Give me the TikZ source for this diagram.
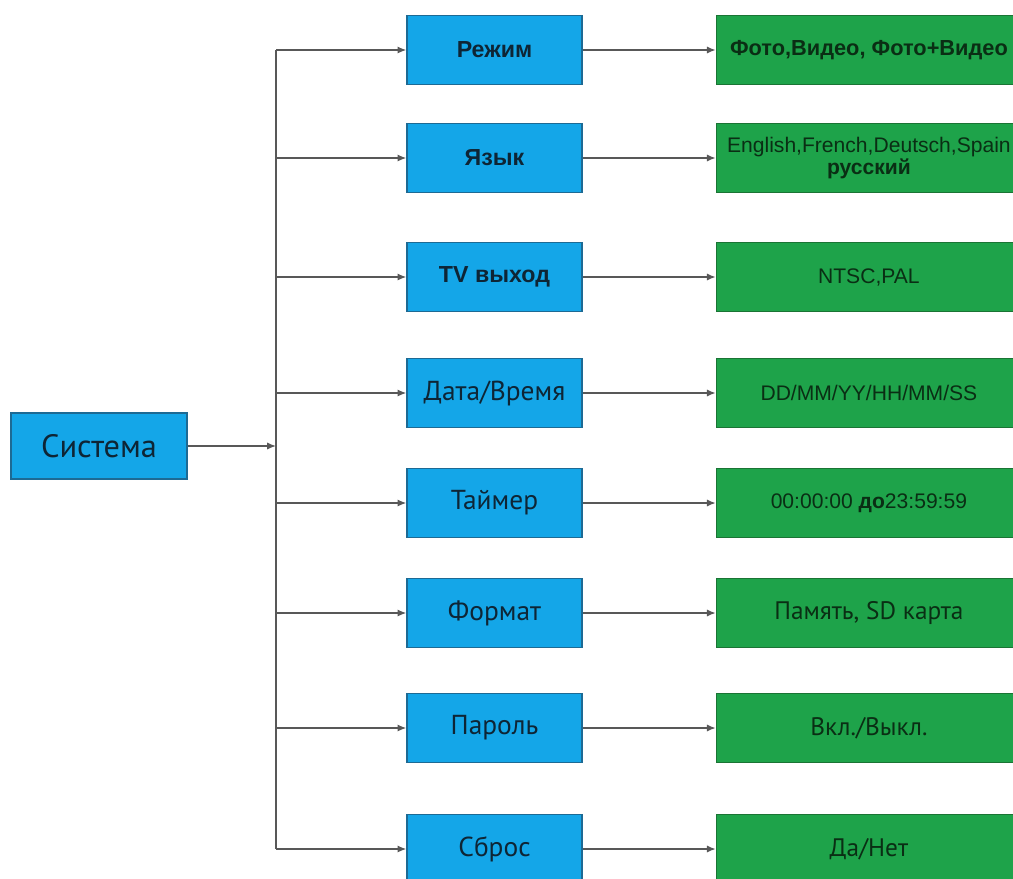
\documentclass[tikz,border=0pt]{standalone}
\usepackage{fontspec}
\setmainfont{Liberation Sans}
\newfontfamily\ptsans{PT Sans}
\usetikzlibrary{arrows.meta}
\usetikzlibrary{positioning}

\definecolor{boxblue}{HTML}{14A6E8}
\definecolor{edgeblue}{HTML}{1D6A94}
\definecolor{boxgreen}{HTML}{1EA34A}
\definecolor{edgegreen}{HTML}{1A7434}
\definecolor{inkblue}{HTML}{0E2535}
\definecolor{inkgreen}{HTML}{0A2E14}
\definecolor{wire}{HTML}{585858}

\begin{document}
\begin{tikzpicture}[x=0.25mm, y=-0.25mm,
		bluenode/.style={rectangle, draw=edgeblue, fill=boxblue, line width=0.35mm, inner sep=0pt,
			minimum width=43.75mm, minimum height=17.25mm, text=inkblue},
		greennode/.style={rectangle, draw=edgegreen, fill=boxgreen, line width=0.35mm, inner sep=0pt,
			minimum width=76.25mm, minimum height=17.25mm, text=inkgreen},
		arialbold/.style={font=\fontsize{16.5}{18}\selectfont\bfseries},
		arialtext/.style={font=\fontsize{15}{17}\selectfont},
		pttext/.style={font=\ptsans\fontsize{19.5}{21}\selectfont},
		arrowline/.style={draw=wire, line width=0.35mm, -{Latex[length=2.2mm,width=1.8mm]}},
		]
		\useasboundingbox (0,0) rectangle (1013,879);
		\clip (0,0) rectangle (1013,879);

		% Nodes
		\node[bluenode, minimum width=44mm, minimum height=16.5mm, font=\ptsans\fontsize{23}{25}\selectfont] (sys) at (99,446) {Система};

		\node[bluenode, arialbold] (mode)  at (494.5,50)  {Режим};
		\node[bluenode, arialbold] (lang)  at (494.5,158) {Язык};
		\node[bluenode, arialbold] (tv)    at (494.5,277) {TV выход};
		\node[bluenode, pttext]    (date)  at (494.5,393) {Дата/Время};
		\node[bluenode, pttext]    (timer) at (494.5,503) {Таймер};
		\node[bluenode, pttext]    (fmt)   at (494.5,613) {Формат};
		\node[bluenode, pttext]    (pwd)   at (494.5,728) {Пароль};
		\node[bluenode, pttext]    (reset) at (494.5,849) {Сброс};

		\node[greennode, right=33.25mm of mode, font=\fontsize{15.5}{17}\selectfont\bfseries] (modeval)
			{Фото,Видео, Фото+Видео};
		\node[greennode, right=33.25mm of lang, arialtext, align=center] (langval)
			{English,French,Deutsch,Spain\\[-1pt]{\bfseries русский}};
		\node[greennode, right=33.25mm of tv, arialtext] (tvval) {NTSC,PAL};
		\node[greennode, right=33.25mm of date, arialtext] (dateval) {DD/MM/YY/HH/MM/SS};
		\node[greennode, right=33.25mm of timer, arialtext] (timerval) {00:00:00 {\bfseries до}23:59:59};
		\node[greennode, right=33.25mm of fmt, font=\ptsans\fontsize{18}{20}\selectfont] (fmtval) {Память, SD карта};
		\node[greennode, right=33.25mm of pwd, font=\ptsans\fontsize{18}{20}\selectfont] (pwdval) {Вкл./Выкл.};
		\node[greennode, right=33.25mm of reset, font=\ptsans\fontsize{18}{20}\selectfont] (resetval) {Да/Нет};

		% Trunk
		\coordinate (ttop) at (276,50);
		\coordinate (tbot) at (276,849);
		\coordinate (tmid) at (276,446);
		\draw[wire, line width=0.35mm] (ttop) -- (tbot);
		\draw[arrowline] (sys) -- (tmid);

		% Branches
		\draw[arrowline] (ttop) -- (mode);
		\draw[arrowline] (ttop |- lang) -- (lang);
		\draw[arrowline] (ttop |- tv) -- (tv);
		\draw[arrowline] (ttop |- date) -- (date);
		\draw[arrowline] (ttop |- timer) -- (timer);
		\draw[arrowline] (ttop |- fmt) -- (fmt);
		\draw[arrowline] (ttop |- pwd) -- (pwd);
		\draw[arrowline] (tbot) -- (reset);

		% Values
		\draw[arrowline] (mode) -- (modeval);
		\draw[arrowline] (lang) -- (langval);
		\draw[arrowline] (tv) -- (tvval);
		\draw[arrowline] (date) -- (dateval);
		\draw[arrowline] (timer) -- (timerval);
		\draw[arrowline] (fmt) -- (fmtval);
		\draw[arrowline] (pwd) -- (pwdval);
		\draw[arrowline] (reset) -- (resetval);
	\end{tikzpicture}
\end{document}
